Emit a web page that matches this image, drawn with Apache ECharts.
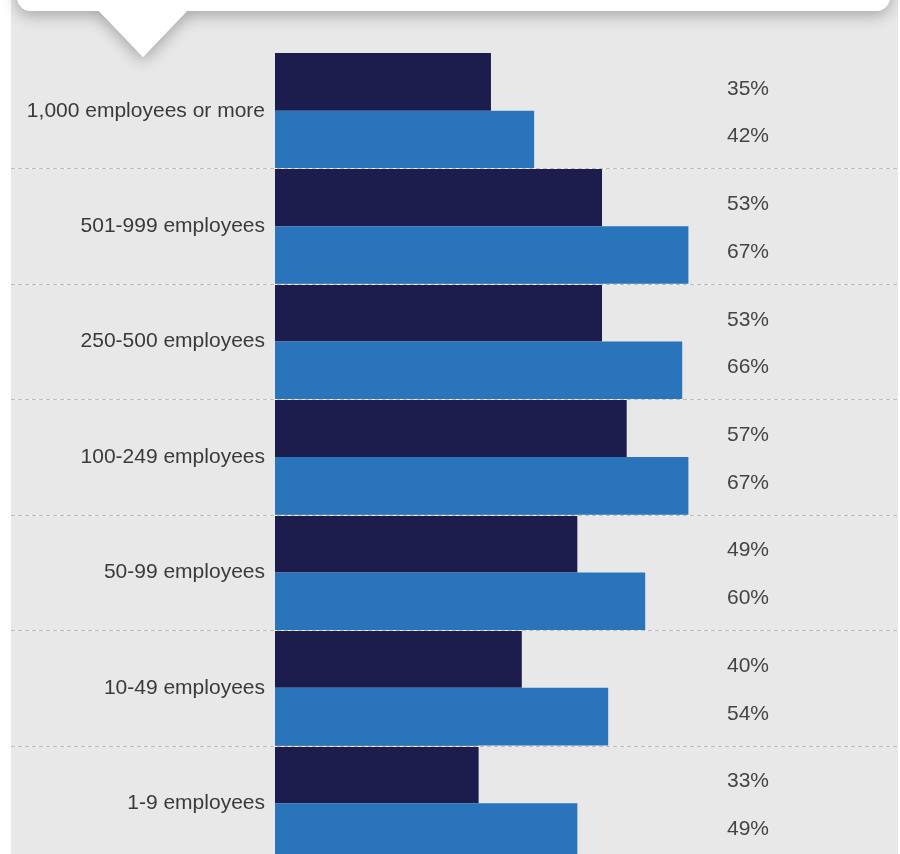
<!DOCTYPE html>
<html>
<head>
<meta charset="utf-8">
<script src="https://cdn.jsdelivr.net/npm/echarts@6/dist/echarts.min.js"></script>
<style>
  html, body { margin: 0; padding: 0; background: #fff; }
  #chart { width: 900px; height: 854px; }
</style>
</head>
<body>
<div id="chart"></div>
<script>
// company size groups, top to bottom
var categories = [
  '1,000 employees or more',
  '501-999 employees',
  '250-500 employees',
  '100-249 employees',
  '50-99 employees',
  '10-49 employees',
  '1-9 employees'
];
// dark bars (upper in each group)
var darkValues = [35, 53, 53, 57, 49, 40, 33];
// blue bars (lower in each group)
var blueValues = [42, 67, 66, 67, 60, 54, 49];

var FONT = '"Liberation Sans", Arial, sans-serif';
var LABEL_X = 748; // column where the percent labels sit

var chart = echarts.init(document.getElementById('chart'));

function valueLabel() {
  return {
    show: true,
    formatter: '{c}%',
    color: '#444',
    fontSize: 21,
    fontFamily: FONT
  };
}

var option = {
  backgroundColor: '#fff',
  animation: false,
  grid: { left: 275, right: 8, top: 53, height: 808, outerBoundsMode: 'none', containLabel: false },
  xAxis: { type: 'value', min: 0, max: 100, show: false },
  yAxis: {
    type: 'category',
    data: categories,
    inverse: true,
    axisLine: { show: false },
    axisTick: { show: false },
    splitLine: { show: false },
    axisLabel: { margin: 10, color: '#3a3a3a', fontSize: 21, fontFamily: FONT, padding: [4, 0, 0, 0] }
  },
  series: [
    {
      type: 'bar',
      data: darkValues,
      barGap: '0%',
      barCategoryGap: '0%',
      itemStyle: { color: '#1c1c4d' },
      label: valueLabel(),
      labelLayout: function (p) {
        return { x: LABEL_X, y: p.rect.y + p.rect.height / 2 + 7, align: 'center', verticalAlign: 'middle' };
      }
    },
    {
      type: 'bar',
      data: blueValues,
      barGap: '0%',
      barCategoryGap: '0%',
      itemStyle: { color: '#2974ba' },
      label: valueLabel(),
      labelLayout: function (p) {
        return { x: LABEL_X, y: p.rect.y + p.rect.height / 2 - 3, align: 'center', verticalAlign: 'middle' };
      }
    }
  ]
};
chart.setOption(option);

// grey panel, callout box on top, dashed separators between groups
var graphics = [
  { type: 'rect', z: -10, shape: { x: 11, y: 0, width: 887, height: 854 }, style: { fill: '#e8e8e8' } },
  { type: 'rect', z: 5, shape: { x: 17, y: -30, width: 873, height: 41, r: 14 },
    style: { fill: '#fff', shadowBlur: 16, shadowColor: 'rgba(0,0,0,0.3)', shadowOffsetY: 4 } },
  { type: 'polygon', z: 5, shape: { points: [[98, 10], [188, 10], [143, 57]] },
    style: { fill: '#fff', shadowBlur: 16, shadowColor: 'rgba(0,0,0,0.3)', shadowOffsetY: 4 } },
  { type: 'rect', z: 6, shape: { x: 17, y: -30, width: 873, height: 41, r: 14 }, style: { fill: '#fff' } },
  { type: 'polygon', z: 6, shape: { points: [[98, 10], [188, 10], [143, 57]] }, style: { fill: '#fff' } }
];
for (var i = 1; i < categories.length; i++) {
  var y = (chart.convertToPixel({ yAxisIndex: 0 }, categories[i - 1]) +
           chart.convertToPixel({ yAxisIndex: 0 }, categories[i])) / 2;
  y = Math.round(y) + 0.5;
  graphics.push({ type: 'line', z: 4, shape: { x1: 11, y1: y, x2: 898, y2: y },
    style: { stroke: '#f4f4f4', lineWidth: 1 } });
  graphics.push({ type: 'line', z: 4, shape: { x1: 11, y1: y, x2: 898, y2: y },
    style: { stroke: '#bdbdbd', lineWidth: 1, lineDash: [4, 3] } });
}
chart.setOption({ graphic: graphics });
</script>
</body>
</html>
